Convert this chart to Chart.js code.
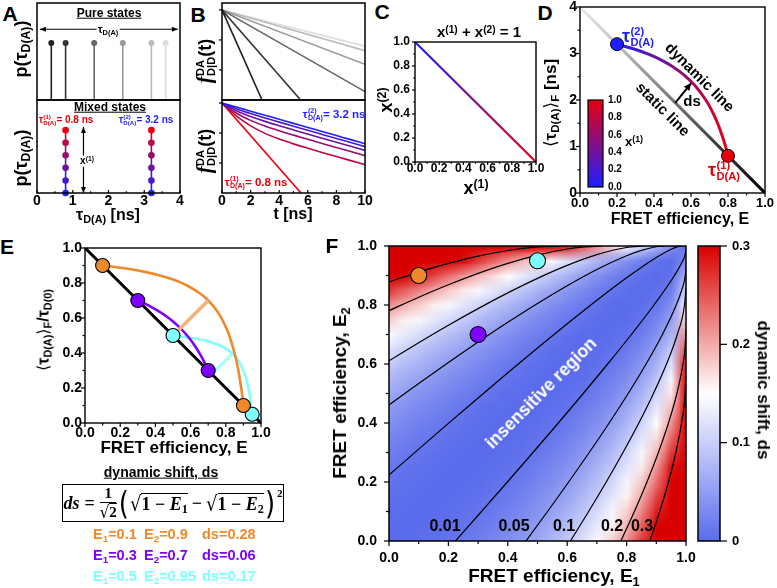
<!DOCTYPE html>
<html><head><meta charset="utf-8">
<script src="https://cdn.jsdelivr.net/npm/chart.js@4.4.1/dist/chart.umd.min.js"></script>
<style>
html,body{margin:0;padding:0;background:#fff}
#root{position:relative;width:777px;height:588px;overflow:hidden;background:#fff;font-family:'Liberation Sans',Arial,sans-serif;font-weight:bold;color:#000}
#root canvas{position:absolute}
.t{position:absolute;white-space:nowrap;line-height:1.05}
.ss{display:inline-block;vertical-align:middle;font-size:0.62em;line-height:0.98;text-align:left;margin-left:0.04em}
.ss>span{display:block}
.t sub,.fx sub{font-size:0.68em;vertical-align:-0.28em;line-height:0}
.t sup,.fx sup{font-size:0.68em;vertical-align:0.42em;line-height:0}
.ang{font-family:'DejaVu Sans';font-weight:normal}
.fr{display:inline-flex;flex-direction:column;align-items:center;font-size:15px;line-height:1.1;margin-right:1px}
.fr .num{border-bottom:1.5px solid #000;padding:0 4px;text-align:center}
.ol{border-top:1.5px solid #000;padding-top:1px;display:inline-block;line-height:1.05}
.sq{font-family:'DejaVu Sans';font-weight:normal;display:inline-block;transform:scaleY(1.15)}
.bp{font-family:'DejaVu Sans';font-weight:normal;font-size:26px;display:inline-block;transform:scaleY(1.2);line-height:1;margin:0 1px}
.sq2{position:relative;top:-10px;font-size:11px;margin-left:1px}
</style></head>
<body><div id="root"></div>
<script>
// ---------------- DATA ----------------
// Panel A
const pureTau = [0.4, 0.8, 1.6, 2.4, 3.2, 3.6];
const mixTau = [0.8, 3.2];
const mixFrac = [0, 0.2, 0.4, 0.6, 0.8, 1.0];
const tauTicks = [0, 1, 2, 3, 4];
// Panel B
const pureEndT = [2.8, 5.5, 10, 10, 10, 10];
const pureEndF = [0.001, 0.001, 0.0019, 0.0155, 0.044, 0.062];
const decayT = [0, 0.5, 1, 1.5, 2, 3, 4, 5, 6, 7, 8, 9, 10];
const mixDecay = [
  [1, 0.8553, 0.7316, 0.6258, 0.5353, 0.3916, 0.2865, 0.2096, 0.1534, 0.1122, 0.0821, 0.0601, 0.0439],
  [1, 0.7913, 0.6426, 0.5313, 0.4447, 0.3180, 0.2306, 0.1681, 0.1228, 0.0898, 0.0657, 0.0481, 0.0351],
  [1, 0.7273, 0.5536, 0.4369, 0.3540, 0.2444, 0.1746, 0.1265, 0.0922, 0.0673, 0.0493, 0.0361, 0.0263],
  [1, 0.6633, 0.4645, 0.3423, 0.2634, 0.1707, 0.1186, 0.0850, 0.0617, 0.0449, 0.0328, 0.0240, 0.0176],
  [1, 0.5993, 0.3755, 0.2479, 0.1728, 0.0971, 0.0627, 0.0434, 0.0311, 0.0225, 0.0164, 0.0120, 0.0088]
];
const redEndT = [0, 6];
const redEndF = [1, 0.00055];
const timeTicks = [0, 2, 4, 6, 8, 10];
const decadeTicks = [0.01, 0.1, 1];
// Panel C
const fracTicks = [0, 0.2, 0.4, 0.6, 0.8, 1.0];
const sumX1 = [0, 1];
const sumX2 = [1, 0];
// Panel D
const staticE = [0, 1];
const staticTau = [4, 0];
const dynE = [0.2, 0.26, 0.32, 0.38, 0.44, 0.5, 0.56, 0.62, 0.68, 0.71, 0.74, 0.77, 0.785, 0.8];
const dynTau = [3.2, 3.135, 3.059, 2.968, 2.857, 2.72, 2.545, 2.316, 2.0, 1.793, 1.538, 1.217, 1.023, 0.8];
const stateE = [0.2, 0.8];
const stateTau = [3.2, 0.8];
const nsTicks = [0, 1, 2, 3, 4];
const effTicks = [0, 0.2, 0.4, 0.6, 0.8, 1.0];
const dsArrowE = [0.515, 0.60];
const dsArrowTau = [1.94, 2.36];
// Panel E
const pairE1 = [0.1, 0.3, 0.5];
const pairE2 = [0.9, 0.7, 0.95];
const pairDs = [0.28, 0.06, 0.17];
const normStaticE = [0, 1];
const normStaticF = [1, 0];
const orangeE = [0.1, 0.18, 0.26, 0.34, 0.42, 0.5, 0.58, 0.66, 0.7, 0.74, 0.78, 0.82, 0.86, 0.872, 0.884, 0.892, 0.9];
const orangeF = [0.9, 0.8902, 0.8784, 0.8636, 0.8448, 0.82, 0.7857, 0.7353, 0.70, 0.6538, 0.5909, 0.5, 0.3571, 0.2969, 0.2241, 0.1667, 0.1];
const purpleE = [0.3, 0.34, 0.38, 0.42, 0.46, 0.5, 0.54, 0.58, 0.62, 0.66, 0.68, 0.7];
const purpleF = [0.7, 0.6818, 0.6613, 0.6379, 0.6111, 0.58, 0.5435, 0.5, 0.4474, 0.3824, 0.3438, 0.3];
const cyanE = [0.5, 0.545, 0.59, 0.635, 0.68, 0.725, 0.77, 0.815, 0.8375, 0.86, 0.8825, 0.905, 0.9275, 0.93425, 0.941, 0.9455, 0.95];
const cyanF = [0.5, 0.4951, 0.489, 0.4815, 0.4719, 0.4591, 0.4413, 0.4149, 0.3962, 0.3714, 0.3372, 0.2868, 0.2052, 0.1698, 0.1263, 0.0913, 0.05];
const orangeSegE = [0.5, 0.7], orangeSegF = [0.5, 0.7];
const cyanSegE = [0.7208, 0.8375], cyanSegF = [0.2793, 0.3962];
// Panel F
const heatE = [0,0.05,0.1,0.15,0.2,0.25,0.3,0.35,0.4,0.45,0.5,0.55,0.6,0.65,0.7,0.75,0.8,0.85,0.9,0.95,1];
const dsGrid = [
 [0,.001,.002,.004,.008,.013,.019,.027,.036,.047,.061,.077,.096,.118,.145,.177,.216,.265,.3,.3,.3],
 [.001,0,.001,.002,.005,.008,.014,.020,.028,.038,.051,.065,.083,.104,.129,.159,.197,.244,.3,.3,.3],
 [.002,.001,0,.001,.002,.005,.009,.014,.021,.030,.041,.055,.071,.090,.114,.142,.178,.223,.283,.3,.3],
 [.004,.002,.001,0,.001,.002,.005,.010,.015,.023,.033,.045,.059,.077,.099,.126,.159,.202,.260,.3,.3],
 [.008,.005,.002,.001,0,.001,.002,.006,.010,.017,.025,.035,.049,.065,.085,.110,.141,.182,.236,.3,.3],
 [.013,.008,.005,.002,.001,0,.001,.003,.006,.011,.018,.027,.039,.053,.072,.095,.124,.162,.214,.292,.3],
 [.019,.014,.009,.005,.002,.001,0,.001,.003,.006,.012,.020,.030,.043,.059,.080,.107,.143,.192,.266,.3],
 [.027,.020,.014,.010,.006,.003,.001,0,.001,.003,.007,.013,.021,.033,.047,.066,.091,.124,.170,.240,.3],
 [.036,.028,.021,.015,.010,.006,.003,.001,0,.001,.003,.008,.014,.024,.036,.053,.076,.106,.149,.215,.3],
 [.047,.038,.030,.023,.017,.011,.006,.003,.001,0,.001,.004,.008,.016,.027,.041,.061,.089,.128,.190,.3],
 [.061,.051,.041,.033,.025,.018,.012,.007,.003,.001,0,.001,.004,.009,.018,.030,.048,.072,.108,.165,.3],
 [.077,.065,.055,.045,.035,.027,.020,.013,.008,.004,.001,0,.001,.004,.011,.021,.035,.057,.089,.141,.3],
 [.096,.083,.071,.059,.049,.039,.030,.021,.014,.008,.004,.001,0,.001,.005,.012,.024,.043,.071,.118,.283],
 [.118,.104,.090,.077,.065,.053,.043,.033,.024,.016,.009,.004,.001,0,.001,.006,.015,.030,.054,.096,.248],
 [.145,.129,.114,.099,.085,.072,.059,.047,.036,.027,.018,.011,.005,.001,0,.002,.007,.018,.038,.074,.212],
 [.177,.159,.142,.126,.110,.095,.080,.066,.053,.041,.030,.021,.012,.006,.002,0,.002,.009,.024,.054,.177],
 [.216,.197,.178,.159,.141,.124,.107,.091,.076,.061,.048,.035,.024,.015,.007,.002,0,.003,.012,.035,.141],
 [.265,.244,.223,.202,.182,.162,.143,.124,.106,.089,.072,.057,.043,.030,.018,.009,.003,0,.004,.019,.106],
 [.3,.3,.283,.260,.236,.214,.192,.170,.149,.128,.108,.089,.071,.054,.038,.024,.012,.004,0,.006,.071],
 [.3,.3,.3,.3,.3,.292,.266,.240,.215,.190,.165,.141,.118,.096,.074,.054,.035,.019,.006,0,.035],
 [.3,.3,.3,.3,.3,.3,.3,.3,.3,.3,.3,.3,.283,.248,.212,.177,.141,.106,.071,.035,0]
];
const contourLevels = [0.01, 0.05, 0.1, 0.2, 0.3];
const contourE1 = [
  [0.2237,0.3114,0.3986,0.4848,0.5701,0.654,0.7362,0.8161,0.8922,0.9611,0.989,0.997,1],
  [0.4611,0.5338,0.605,0.6742,0.7412,0.8053,0.8656,0.9206,0.9671,0.9853,0.9975,1],
  [0.6107,0.6721,0.7314,0.7878,0.8412,0.8904,0.9343,0.9706,0.9949,1],
  [0.7808,0.8262,0.8685,0.907,0.941,0.9693,0.9899,0.9964,1],
  [0.8785,0.9116,0.9409,0.9657,0.9848,0.9969,1]
];
const contourE2 = [
  [0,0.1,0.2,0.3,0.4,0.5,0.6,0.7,0.8,0.9,0.95,0.97,0.9859],
  [0,0.1,0.2,0.3,0.4,0.5,0.6,0.7,0.8,0.85,0.9,0.9293],
  [0,0.1,0.2,0.3,0.4,0.5,0.6,0.7,0.8,0.8586],
  [0,0.1,0.2,0.3,0.4,0.5,0.6,0.65,0.7172],
  [0,0.1,0.2,0.3,0.4,0.5,0.5757]
];
const dsTicks = [0, 0.1, 0.2, 0.3];

// ---------------- STYLES ----------------
const RED = '#e8000e', BLUE = '#1e1eff';
const pureShade = ['#222222', '#333333', '#666666', '#999999', '#bbbbbb', '#dddddd'];
const pairColors = ['#ee8a2c', '#8000ff', '#80ffff'];
const segColors = ['#f3b27c', '#a8ffff'];
function fracColor(f){ return `rgb(${Math.round(30+200*f)},${Math.round(30*(1-f))},${Math.round(255-240*f)})`; }
const cmapVals = [0, 0.15, 0.3];
const cmapRGB = [[90,108,236],[255,255,255],[216,0,0]];
function dsRGB(v){
  const x = Math.max(0, Math.min(0.3, v));
  const k = x <= 0.15 ? 0 : 1;
  const t = (x - cmapVals[k]) / (cmapVals[k+1] - cmapVals[k]);
  return cmapRGB[k].map((c,i)=>Math.round(c + (cmapRGB[k+1][i]-c)*t));
}
const fmt1 = v => Number(v).toFixed(1);
function mids(a){ const r=[]; for(let i=0;i<a.length-1;i++) r.push((a[i]+a[i+1])/2); return r; }
const pts = (xs, ys) => xs.map((x,i)=>({x, y: ys[i]}));

// ---------------- PLUGINS ----------------
const framePlugin = {
  id:'frame',
  afterDatasetsDraw(chart, args, o){
    if(!o || o.off) return;
    const ctx=chart.ctx, ca=chart.chartArea;
    ctx.save();
    ctx.strokeStyle='#000';
    ctx.lineWidth=o.lw||1.5;
    ctx.strokeRect(ca.left, ca.top, ca.right-ca.left, ca.bottom-ca.top);
    ctx.lineWidth=o.tw||1.2;
    (o.marks||[]).forEach(m=>{
      const s=chart.scales[m.scale];
      const list=m.major.map(v=>[v,m.len]).concat((m.minor||[]).map(v=>[v,m.len*0.6]));
      const dir=m.inward?-1:1;
      list.forEach(([v,L])=>{
        const p=s.getPixelForValue(v);
        ctx.beginPath();
        if(m.edge==='bottom'){ctx.moveTo(p,ca.bottom);ctx.lineTo(p,ca.bottom+dir*L);}
        else if(m.edge==='left'){ctx.moveTo(ca.left,p);ctx.lineTo(ca.left-dir*L,p);}
        else {ctx.moveTo(ca.right,p);ctx.lineTo(ca.right+dir*L,p);}
        ctx.stroke();
      });
    });
    ctx.restore();
  }
};
const arrowPlugin = {
  id:'arrows',
  afterDatasetsDraw(chart, args, o){
    if(!o || !o.list) return;
    const ctx=chart.ctx, xs=chart.scales.x, ys=chart.scales.y;
    o.list.forEach(a=>{
      const x0=xs.getPixelForValue(a.x[0]), y0=ys.getPixelForValue(a.y[0]);
      const x1=xs.getPixelForValue(a.x[1]), y1=ys.getPixelForValue(a.y[1]);
      ctx.save();
      ctx.strokeStyle=ctx.fillStyle=a.color||'#000';
      ctx.lineWidth=a.lw||1.2;
      ctx.beginPath(); ctx.moveTo(x0,y0); ctx.lineTo(x1,y1); ctx.stroke();
      const H=a.head||6, W=a.hw||2.5;
      const head=(x,y,ang)=>{
        ctx.beginPath(); ctx.moveTo(x,y);
        ctx.lineTo(x-H*Math.cos(ang)+W*Math.sin(ang), y-H*Math.sin(ang)-W*Math.cos(ang));
        ctx.lineTo(x-H*Math.cos(ang)-W*Math.sin(ang), y-H*Math.sin(ang)+W*Math.cos(ang));
        ctx.closePath(); ctx.fill();
      };
      const ang=Math.atan2(y1-y0,x1-x0);
      head(x1,y1,ang);
      if(a.both) head(x0,y0,ang+Math.PI);
      ctx.restore();
    });
  }
};
const heatPlugin = {
  id:'heat',
  beforeDatasetsDraw(chart, args, o){
    if(!o || !o.grid) return;
    const n=o.axis.length;
    const off=document.createElement('canvas'); off.width=n; off.height=n;
    const oc=off.getContext('2d'); const img=oc.createImageData(n,n);
    for(let i=0;i<n;i++) for(let j=0;j<n;j++){
      const c=dsRGB(o.grid[i][j]); const k=((n-1-i)*n+j)*4;
      img.data[k]=c[0]; img.data[k+1]=c[1]; img.data[k+2]=c[2]; img.data[k+3]=255;
    }
    oc.putImageData(img,0,0);
    const xs=chart.scales.x, ys=chart.scales.y, h=(o.axis[1]-o.axis[0])/2, ca=chart.chartArea;
    const x0=xs.getPixelForValue(o.axis[0]-h), x1=xs.getPixelForValue(o.axis[n-1]+h);
    const y0=ys.getPixelForValue(o.axis[n-1]+h), y1=ys.getPixelForValue(o.axis[0]-h);
    const ctx=chart.ctx;
    ctx.save();
    ctx.beginPath(); ctx.rect(ca.left,ca.top,ca.right-ca.left,ca.bottom-ca.top); ctx.clip();
    ctx.imageSmoothingEnabled=true;
    ctx.drawImage(off,x0,y0,x1-x0,y1-y0);
    ctx.restore();
  }
};
const cbarPlugin = {
  id:'cbar',
  beforeDatasetsDraw(chart, args, o){
    if(!o || !o.stops) return;
    const ys=chart.scales.y, ca=chart.chartArea, ctx=chart.ctx;
    const v0=o.stops[0][0], v1=o.stops[o.stops.length-1][0];
    const g=ctx.createLinearGradient(0, ys.getPixelForValue(v0), 0, ys.getPixelForValue(v1));
    o.stops.forEach(([v,c])=>g.addColorStop((v-v0)/(v1-v0), c));
    ctx.save(); ctx.fillStyle=g; ctx.fillRect(ca.left,ca.top,ca.right-ca.left,ca.bottom-ca.top); ctx.restore();
  }
};
Chart.register(framePlugin, arrowPlugin, heatPlugin, cbarPlugin);
Chart.defaults.font.family="'Liberation Sans', Arial, sans-serif";
Chart.defaults.font.weight='bold';
Chart.defaults.color='#000';
Chart.defaults.plugins.legend.display=false;
Chart.defaults.plugins.tooltip.enabled=false;
Chart.defaults.elements.point.radius=0;
Chart.defaults.elements.point.hoverRadius=0;

const root=document.getElementById('root');
function sc(o){
  const s={type:o.type||'linear', position:o.pos, min:o.min, max:o.max, display:o.show!==false,
    grid:{display:false, drawTicks:false}, border:{display:false},
    ticks:{display:!!o.ticks, autoSkip:false, maxRotation:0, minRotation:0, padding:o.pad||0,
      font:{size:o.size||13, weight:'bold'}, color:'#000', callback:(v)=>o.fmt?o.fmt(v):String(v)},
    afterFit:(sc)=>{ if(sc.isHorizontal()) sc.height=o.dim||0; else sc.width=o.dim||0; sc.paddingLeft=sc.paddingRight=sc.paddingTop=sc.paddingBottom=0; }
  };
  if(o.ticks) s.afterBuildTicks=(sc)=>{ sc.ticks=o.ticks.map(v=>({value:v})); };
  return s;
}
function mk(area, m, dims, cfg){
  const [l,t,r,b]=area;
  const W=r-l+m.l+m.r, H=b-t+m.t+m.b;
  const c=document.createElement('canvas'); c.width=W; c.height=H;
  Object.assign(c.style,{left:(l-m.l)+'px', top:(t-m.t)+'px', width:W+'px', height:H+'px'});
  root.appendChild(c);
  const o=cfg.options;
  o.responsive=false; o.maintainAspectRatio=false; o.animation=false; o.devicePixelRatio=1;
  o.layout={autoPadding:false, padding:{left:m.l-(dims.l||0), right:m.r-(dims.r||0), top:m.t, bottom:m.b-(dims.b||0)}};
  return new Chart(c, cfg);
}
function hGrad(c0, c1, xa, xb){
  return (ctx)=>{
    const ch=ctx.chart, ca=ch.chartArea;
    if(!ca) return c0;
    const x0 = xa===undefined ? ca.left : ch.scales.x.getPixelForValue(xa);
    const x1 = xb===undefined ? ca.right : ch.scales.x.getPixelForValue(xb);
    const g=ch.ctx.createLinearGradient(x0,0,x1,0);
    g.addColorStop(0,c0); g.addColorStop(1,c1); return g;
  };
}
function lGrad(c0, c1, xa, ya, xb, yb){
  return (ctx)=>{
    const ch=ctx.chart, ca=ch.chartArea;
    if(!ca) return c1;
    const g=ch.ctx.createLinearGradient(ch.scales.x.getPixelForValue(xa), ch.scales.y.getPixelForValue(ya), ch.scales.x.getPixelForValue(xb), ch.scales.y.getPixelForValue(yb));
    g.addColorStop(0,c0); g.addColorStop(1,c1); return g;
  };
}

// ---------------- PANEL A ----------------
mk([37,3,180,100], {l:2,r:2,t:2,b:1}, {}, {type:'scatter',
  data:{datasets: pureTau.map((tau,k)=>({data:[{x:tau,y:0},{x:tau,y:1}], showLine:true, borderColor:pureShade[k], borderWidth:1.6,
    pointRadius:[0,3], pointBackgroundColor:pureShade[k], pointBorderWidth:0, clip:false}))},
  options:{scales:{x:sc({pos:'bottom',min:0,max:4,show:false}), y:sc({pos:'left',min:0,max:1.7,show:false})},
    plugins:{frame:{}, arrows:{list:[{x:[0.08,3.94], y:[1.24,1.24], both:true, lw:1.2, head:6, hw:2.5}]}}}});
mk([37,100,180,193], {l:10,r:10,t:1,b:20}, {b:20}, {type:'scatter',
  data:{datasets: mixTau.map(tau=>({data:mixFrac.map(f=>({x:tau,y:f})), showLine:true, borderWidth:1.6, borderColor:fracColor(0.5),
    pointRadius:3.3, pointBackgroundColor:mixFrac.map(fracColor), pointBorderWidth:0,
    segment:{borderColor:c=>fracColor(mixFrac[c.p0DataIndex])}, clip:false}))},
  options:{scales:{x:sc({pos:'bottom',min:0,max:4,ticks:tauTicks,size:14,pad:0,dim:20}), y:sc({pos:'left',min:0,max:1.48,show:false})},
    plugins:{frame:{marks:[{scale:'x',edge:'bottom',major:tauTicks,minor:mids(tauTicks),len:3,inward:true}]},
      arrows:{list:[{x:[1.3,1.3], y:[0,1.05], both:true, lw:1.2, head:6, hw:2.5}]}}}});

// ---------------- PANEL B ----------------
mk([222,3,365,100], {l:8,r:4,t:2,b:1}, {}, {type:'scatter',
  data:{datasets: pureTau.map((tau,k)=>({data:[{x:0,y:1},{x:pureEndT[k],y:pureEndF[k]}], showLine:true, borderColor:pureShade[k], borderWidth:1.6}))},
  options:{scales:{x:sc({pos:'bottom',min:0,max:10,show:false}), y:sc({type:'logarithmic',pos:'left',min:0.001,max:1.7,show:false})},
    plugins:{frame:{marks:[{scale:'y',edge:'left',major:decadeTicks,len:3}]}}}});
const bSets = mixDecay.map((row,k)=>({data:pts(decayT,row), showLine:true, borderColor:fracColor(mixFrac[k]), borderWidth:1.6, cubicInterpolationMode:'monotone'}));
bSets.push({data:pts(redEndT,redEndF), showLine:true, borderColor:fracColor(1), borderWidth:1.6});
mk([222,100,365,193], {l:8,r:10,t:1,b:20}, {b:20}, {type:'scatter',
  data:{datasets:bSets},
  options:{scales:{x:sc({pos:'bottom',min:0,max:10,ticks:timeTicks,size:14,pad:0,dim:20}), y:sc({type:'logarithmic',pos:'left',min:0.001,max:1.26,show:false})},
    plugins:{frame:{marks:[{scale:'y',edge:'left',major:decadeTicks,len:3},{scale:'x',edge:'bottom',major:timeTicks,minor:mids(timeTicks),len:3,inward:true}]}}}});

// ---------------- PANEL C ----------------
mk([415,42,536,162], {l:32,r:10,t:8,b:16}, {l:30,b:16}, {type:'scatter',
  data:{datasets:[{data:pts(sumX1,sumX2), showLine:true, borderWidth:2.2, borderColor:hGrad(BLUE,RED)}]},
  options:{scales:{x:sc({pos:'bottom',min:0,max:1,ticks:fracTicks,fmt:fmt1,size:12,pad:-1,dim:16}),
    y:sc({pos:'left',min:0,max:1,ticks:fracTicks,fmt:fmt1,size:12,pad:5,dim:30})},
    plugins:{frame:{lw:1.4, marks:[{scale:'x',edge:'bottom',major:fracTicks,minor:mids(fracTicks),len:3},{scale:'y',edge:'left',major:fracTicks,minor:mids(fracTicks),len:3}]}}}});

// ---------------- PANEL D ----------------
mk([580,7,765,193], {l:22,r:11,t:7,b:20}, {l:20,b:20}, {type:'scatter',
  data:{datasets:[
    {data:pts(stateE,stateTau), pointRadius:6.5, pointBackgroundColor:[BLUE,RED], pointBorderColor:'#000', pointBorderWidth:1, clip:false, order:0},
    {data:pts(dynE,dynTau), showLine:true, borderWidth:3, borderColor:hGrad(BLUE,RED,0.2,0.8), cubicInterpolationMode:'monotone', order:3},
    {data:pts(staticE,staticTau), showLine:true, borderWidth:3, borderColor:lGrad('#eeeeee','#000000',0,4,1,0), order:5}
  ]},
  options:{scales:{x:sc({pos:'bottom',min:0,max:1,ticks:effTicks,fmt:fmt1,size:13,pad:2.5,dim:20}),
    y:sc({pos:'left',min:0,max:4,ticks:nsTicks,size:14,pad:3,dim:20})},
    plugins:{frame:{lw:1.4, marks:[{scale:'x',edge:'bottom',major:effTicks,minor:mids(effTicks),len:4},{scale:'y',edge:'left',major:nsTicks,minor:mids(nsTicks),len:4}]},
      arrows:{list:[{x:dsArrowE, y:dsArrowTau, lw:2, head:7, hw:3.5}]}}}});
mk([588,100,603,187], {l:1,r:24,t:6,b:6}, {r:22}, {type:'scatter', data:{datasets:[]},
  options:{scales:{x:sc({pos:'bottom',min:0,max:1,show:false}), y:sc({pos:'right',min:0,max:1,ticks:fracTicks,fmt:fmt1,size:10,pad:5,dim:22})},
    plugins:{cbar:{stops:[[0,BLUE],[1,RED]]}, frame:{lw:1.2}}}});

// ---------------- PANEL E ----------------
mk([85,248,261,423], {l:36,r:12,t:8,b:20}, {l:34,b:20}, {type:'scatter',
  data:{datasets:[
    {data:pts([pairE1[0],pairE2[0]],[1-pairE1[0],1-pairE2[0]]), pointRadius:7, pointBackgroundColor:pairColors[0], pointBorderColor:'#000', pointBorderWidth:1.1, clip:false, order:0},
    {data:pts([pairE1[1],pairE2[1]],[1-pairE1[1],1-pairE2[1]]), pointRadius:7, pointBackgroundColor:pairColors[1], pointBorderColor:'#000', pointBorderWidth:1.1, clip:false, order:0},
    {data:pts([pairE1[2],pairE2[2]],[1-pairE1[2],1-pairE2[2]]), pointRadius:7, pointBackgroundColor:pairColors[2], pointBorderColor:'#000', pointBorderWidth:1.1, clip:false, order:0},
    {data:pts(orangeSegE,orangeSegF), showLine:true, borderWidth:3.5, borderColor:segColors[0], order:2},
    {data:pts(cyanSegE,cyanSegF), showLine:true, borderWidth:3.5, borderColor:segColors[1], order:2},
    {data:pts(orangeE,orangeF), showLine:true, borderWidth:2.6, borderColor:pairColors[0], cubicInterpolationMode:'monotone', order:3},
    {data:pts(purpleE,purpleF), showLine:true, borderWidth:2.6, borderColor:pairColors[1], cubicInterpolationMode:'monotone', order:3},
    {data:pts(cyanE,cyanF), showLine:true, borderWidth:2.6, borderColor:pairColors[2], cubicInterpolationMode:'monotone', order:3},
    {data:pts(normStaticE,normStaticF), showLine:true, borderWidth:3, borderColor:'#000', order:5}
  ]},
  options:{scales:{x:sc({pos:'bottom',min:0,max:1,ticks:effTicks,fmt:fmt1,size:14,pad:1.5,dim:20}),
    y:sc({pos:'left',min:0,max:1,ticks:effTicks,fmt:fmt1,size:14,pad:3,dim:34})},
    plugins:{frame:{lw:1.4, marks:[{scale:'x',edge:'bottom',major:effTicks,minor:mids(effTicks),len:4},{scale:'y',edge:'left',major:effTicks,minor:mids(effTicks),len:4}]}}}});

// ---------------- PANEL F ----------------
const fSets = [{data:pts(pairE1,pairE2), pointRadius:8, pointBackgroundColor:pairColors, pointBorderColor:'#000', pointBorderWidth:1.1, clip:false, order:0}];
contourLevels.forEach((lev,k)=>{
  fSets.push({data:pts(contourE1[k],contourE2[k]), showLine:true, borderWidth:1.2, borderColor:'#000', cubicInterpolationMode:'monotone', order:2});
  fSets.push({data:pts(contourE2[k],contourE1[k]), showLine:true, borderWidth:1.2, borderColor:'#000', cubicInterpolationMode:'monotone', order:2});
});
mk([389,246,686,541], {l:40,r:10,t:8,b:28}, {l:38,b:26}, {type:'scatter',
  data:{datasets:fSets},
  options:{scales:{x:sc({pos:'bottom',min:0,max:1,ticks:effTicks,fmt:fmt1,size:14,pad:9,dim:26}),
    y:sc({pos:'left',min:0,max:1,ticks:effTicks,fmt:fmt1,size:14,pad:12,dim:38})},
    plugins:{heat:{grid:dsGrid, axis:heatE}, frame:{lw:1.5, marks:[{scale:'x',edge:'bottom',major:effTicks,minor:mids(effTicks),len:5},{scale:'y',edge:'left',major:effTicks,minor:mids(effTicks),len:5}]}}}});
mk([698,246,720,541], {l:1,r:40,t:8,b:8}, {r:38}, {type:'scatter', data:{datasets:[]},
  options:{scales:{x:sc({pos:'bottom',min:0,max:1,show:false}), y:sc({pos:'right',min:0,max:0.3,ticks:dsTicks,fmt:v=>v===0?'0':fmt1(v),size:13,pad:12,dim:38})},
    plugins:{cbar:{stops:cmapVals.map((v,i)=>[v,`rgb(${cmapRGB[i].join(',')})`])}, frame:{lw:1.5, marks:[{scale:'y',edge:'right',major:dsTicks,len:7}]}}}});

// ---------------- TEXT ----------------
function T(html, x, y, o={}){
  const d=document.createElement('div'); d.className='t'; d.innerHTML=html;
  d.style.left=x+'px'; d.style.top=y+'px'; d.style.fontSize=(o.s||14)+'px';
  if(o.c) d.style.color=o.c;
  if(o.bg){ d.style.background=o.bg; d.style.padding='0 1px'; }
  if(o.u) d.style.textDecoration='underline';
  if(o.f) d.style.fontFamily=o.f;
  d.style.transform=`translate(${o.a==='l'?'0':'-50%'},-50%) rotate(${o.r||0}deg)`;
  root.appendChild(d);
}
const tau=(sup,sub)=>`τ<span class="ss"><span>${sup}</span><span>${sub}</span></span>`;
const ang=(c)=>`<span class="ang">${c}</span>`;
const fDA=`<i style="font-family:'Liberation Serif',serif;font-size:1.15em">f</i><span class="ss"><span>DA</span><span>D|D</span></span>(t)`;
// letters
T('A',10,14,{s:21}); T('B',198,15,{s:21}); T('C',382,12,{s:21}); T('D',545,13,{s:21}); T('E',7,247,{s:21}); T('F',332,246,{s:21});
// A
T('Pure states',109,13,{s:12,u:1});
T('τ<sub>D(A)</sub>',108,30,{s:11,bg:'#fff'});
T('Mixed states',110,107,{s:12,u:1});
T(tau('(1)','D(A)')+'= 0.8 ns',66,120,{s:10,c:RED});
T(tau('(2)','D(A)')+'= 3.2 ns',146,120,{s:10,c:BLUE});
T('x<sup>(1)</sup>',87,161,{s:10,bg:'#fff'});
T('p(τ<sub>D(A)</sub>)',21,49,{s:18,r:-90});
T('p(τ<sub>D(A)</sub>)',21,158,{s:18,r:-90});
T('τ<sub>D(A)</sub> [ns]',108,215,{s:16});
// B
T(fDA,206,61,{s:18,r:-90});
T(fDA,206,151,{s:18,r:-90});
T('t [ns]',293,214,{s:16});
T(tau('(2)','D(A)')+'= 3.2 ns',334,115,{s:11.5,c:BLUE});
T(tau('(1)','D(A)')+'= 0.8 ns',256,183,{s:11.5,c:RED});
// C
T('x<sup>(1)</sup> + x<sup>(2)</sup> = 1',479,32,{s:15});
T('x<sup>(2)</sup>',386,100,{s:18,r:-90});
T('x<sup>(1)</sup>',476,188,{s:18});
// D
T(ang('⟨')+'τ<sub>D(A)</sub>'+ang('⟩')+'<sub>F</sub> [ns]',551,103,{s:17,r:-90});
T('FRET efficiency, E',680,219,{s:16});
T(tau('(2)','D(A)'),638,37,{s:18,c:BLUE});
T(tau('(1)','D(A)'),724,171,{s:18,c:RED});
T('dynamic line',700,77,{s:15,r:45});
T('static line',663,109,{s:15,r:45});
T('ds',692,101,{s:15});
T('x<sup>(1)</sup>',634,142,{s:13});
// E
T(ang('⟨')+'τ<sub>D(A)</sub>'+ang('⟩')+'<sub>F</sub>/τ<sub>D(0)</sub>',44,330,{s:16,r:-90});
T('FRET efficiency, E',174,448,{s:17});
T('dynamic shift, ds',161,472,{s:14,u:1});
root.insertAdjacentHTML('beforeend', `<div class="fx" style="position:absolute;left:62px;top:484px;width:220px;height:36px;border:1.6px solid #000;display:flex;align-items:center;justify-content:center;font-family:'Liberation Serif',serif;font-size:18px;font-weight:bold;white-space:nowrap"><i>ds</i><span style="margin:0 5px">=</span><span class="fr"><span class="num">1</span><span><span class="sq">√</span><span class="ol">2</span></span></span><span class="bp">(</span><span class="sq">√</span><span class="ol">1 − <i>E</i><sub>1</sub></span><span style="margin:0 4px">−</span><span class="sq">√</span><span class="ol">1 − <i>E</i><sub>2</sub></span><span class="bp">)</span><span class="sq2">2</span></div>`);
pairE1.forEach((e1,k)=>{
  const y=535+21*k, c=pairColors[k];
  T(`E<sub>1</sub>=${e1}`,93,y,{s:14.5,c,a:'l'});
  T(`E<sub>2</sub>=${pairE2[k]}`,144,y,{s:14.5,c,a:'l'});
  T(`ds=${pairDs[k].toFixed(2)}`,202,y,{s:14.5,c,a:'l'});
});
// F
T('FRET efficiency, E<sub>2</sub>',340,393,{s:19,r:-90});
T('FRET efficiency, E<sub>1</sub>',554,576,{s:19});
T('dynamic shift, ds',763,390,{s:17,r:90});
T('insensitive region',541,393,{s:17.5,r:-45,c:'#fff'});
const contourLabelX=[445,514,564,612,642];
contourLevels.forEach((lev,k)=>T(String(lev),contourLabelX[k],526,{s:16}));
</script></body></html>
